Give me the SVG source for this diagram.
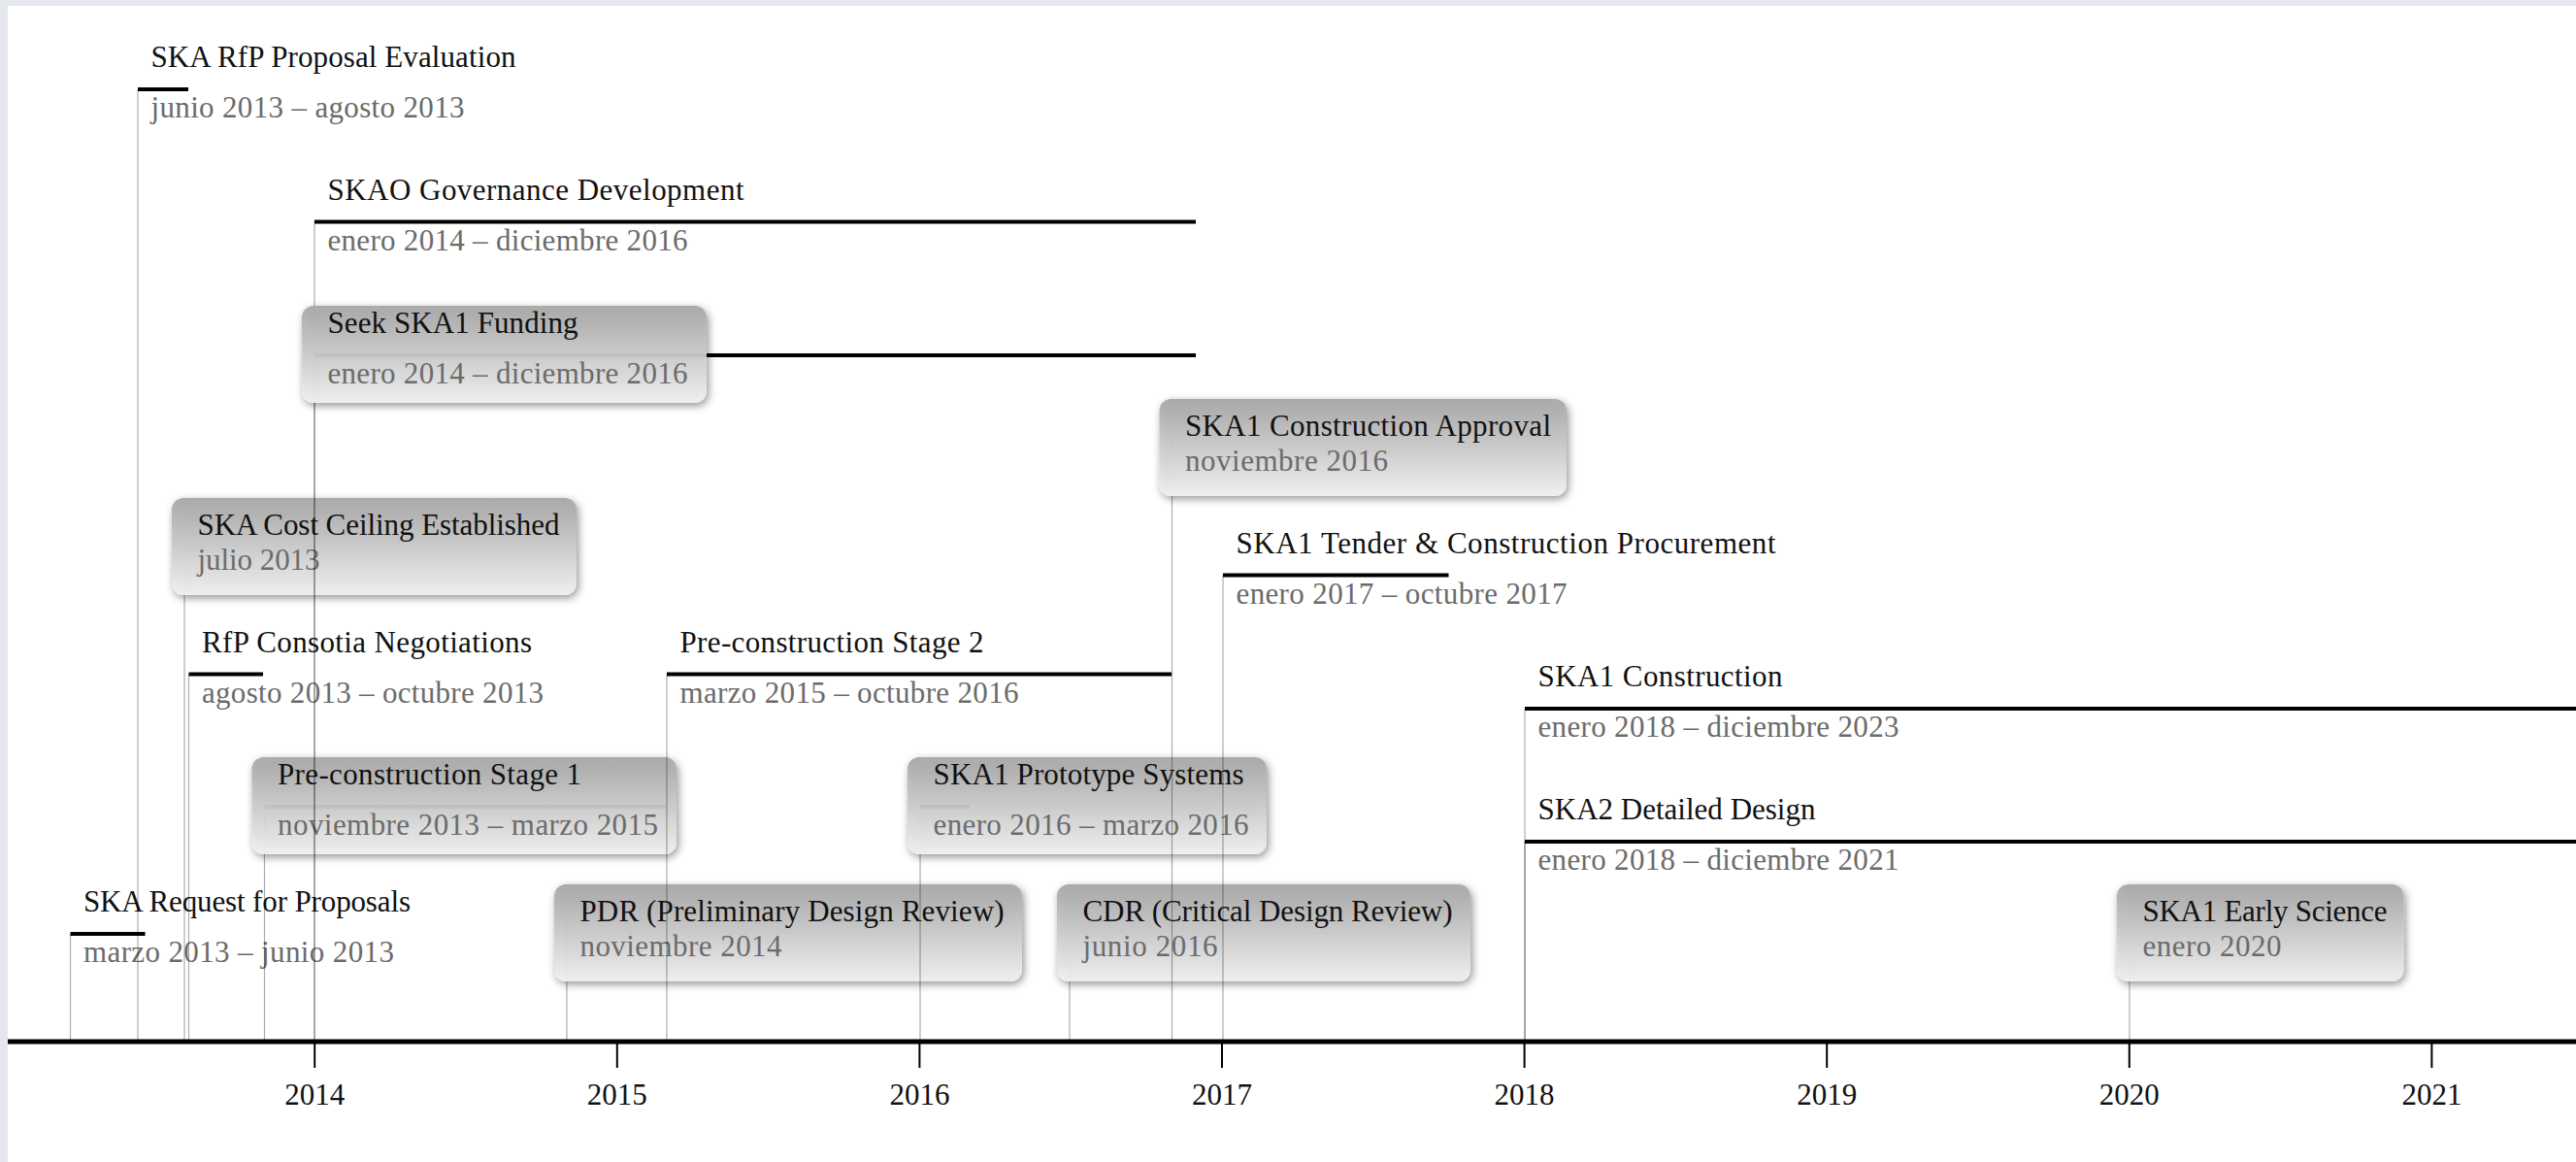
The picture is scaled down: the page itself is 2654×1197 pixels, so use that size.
<svg xmlns="http://www.w3.org/2000/svg" width="2654" height="1197" viewBox="0 0 2654 1197">
  <defs>
    <linearGradient id="boxFill" x1="0" y1="0" x2="0" y2="1">
      <stop offset="0" stop-color="#a6a6a6"/>
      <stop offset="0.5" stop-color="#cbcbcb"/>
      <stop offset="1" stop-color="#f1f1f1"/>
    </linearGradient>
    <filter id="boxShadow" x="-10%" y="-30%" width="125%" height="170%">
      <feDropShadow dx="2" dy="3" stdDeviation="4" flood-color="#000" flood-opacity="0.45"/>
    </filter>
    <style>
      text { font-family: "Liberation Serif", "Times New Roman", serif; font-size: 31px; }
      .title { fill: #111; }
      .date { fill: #6b6b6b; }
      .year { fill: #111; text-anchor: middle; }
      .bar { stroke: #000; stroke-width: 4; fill: none; }
      .lead { stroke: #000; stroke-opacity: 0.32; stroke-width: 1.2; fill: none; }
      .stub { stroke: #000; stroke-opacity: 0.32; stroke-width: 1.2; fill: none; }
      .box { fill: url(#boxFill); fill-opacity: 0.93; filter: url(#boxShadow); }
      .axis { stroke: #000; stroke-width: 5; }
      .tick { stroke: #000; stroke-width: 2; }
    </style>
  </defs>

  <!-- page -->
  <rect x="0" y="0" width="2654" height="1197" fill="#e4e7ec"/>
  <rect x="8" y="6" width="2646" height="1191" fill="#ffffff"/>

  <!-- timeline items -->
  <g id="nodes">
    <g id="rfp-requests">
      <line class="bar" x1="72.5" y1="962" x2="149.5" y2="962"/>
      <text class="title" x="86" y="939" textLength="337" lengthAdjust="spacing">SKA Request for Proposals</text>
      <text class="date" x="86" y="991" textLength="320" lengthAdjust="spacing">marzo 2013 – junio 2013</text>
    </g>
    <g id="rfp-evaluation">
      <line class="bar" x1="142" y1="92" x2="194" y2="92"/>
      <text class="title" x="155.5" y="69" textLength="376" lengthAdjust="spacing">SKA RfP Proposal Evaluation</text>
      <text class="date" x="155.5" y="121" textLength="323" lengthAdjust="spacing">junio 2013 – agosto 2013</text>
    </g>
    <g id="skao-governance">
      <line class="bar" x1="324" y1="228.5" x2="1232" y2="228.5"/>
      <text class="title" x="337.5" y="205.5" textLength="429" lengthAdjust="spacing">SKAO Governance Development</text>
      <text class="date" x="337.5" y="257.5" textLength="371" lengthAdjust="spacing">enero 2014 – diciembre 2016</text>
    </g>
    <g id="seek-funding">
      <line class="bar" x1="324" y1="366" x2="1232" y2="366"/>
      <line class="stub" x1="324" y1="315" x2="324" y2="415"/>
      <line class="stub" x1="324" y1="366" x2="324" y2="415"/>
      <rect class="box" x="311" y="315" width="417" height="100" rx="12"/>
      <text class="title" x="337.5" y="343" textLength="258" lengthAdjust="spacing">Seek SKA1 Funding</text>
      <text class="date" x="337.5" y="395" textLength="371" lengthAdjust="spacing">enero 2014 – diciembre 2016</text>
    </g>
    <g id="construction-approval">
      <line class="stub" x1="1207.5" y1="442" x2="1207.5" y2="511"/>
      <rect class="box" x="1194.5" y="411" width="419.5" height="100" rx="12"/>
      <text class="title" x="1221" y="449" textLength="377" lengthAdjust="spacing">SKA1 Construction Approval</text>
      <text class="date" x="1221" y="485" textLength="209" lengthAdjust="spacing">noviembre 2016</text>
    </g>
    <g id="tender">
      <line class="bar" x1="1260" y1="592.5" x2="1492.5" y2="592.5"/>
      <text class="title" x="1273.5" y="569.5" textLength="556" lengthAdjust="spacing">SKA1 Tender &amp; Construction Procurement</text>
      <text class="date" x="1273.5" y="621.5" textLength="341" lengthAdjust="spacing">enero 2017 – octubre 2017</text>
    </g>
    <g id="cost-ceiling">
      <line class="stub" x1="190" y1="544" x2="190" y2="613"/>
      <rect class="box" x="177" y="513" width="417" height="100" rx="12"/>
      <text class="title" x="203.5" y="551" textLength="373" lengthAdjust="spacing">SKA Cost Ceiling Established</text>
      <text class="date" x="203.5" y="587" textLength="126" lengthAdjust="spacing">julio 2013</text>
    </g>
    <g id="negotiations">
      <line class="bar" x1="194.5" y1="694.5" x2="271" y2="694.5"/>
      <text class="title" x="208" y="671.5" textLength="340" lengthAdjust="spacing">RfP Consotia Negotiations</text>
      <text class="date" x="208" y="723.5" textLength="352" lengthAdjust="spacing">agosto 2013 – octubre 2013</text>
    </g>
    <g id="preconstruction-2">
      <line class="bar" x1="687" y1="694.5" x2="1207" y2="694.5"/>
      <text class="title" x="700.5" y="671.5" textLength="313" lengthAdjust="spacing">Pre-construction Stage 2</text>
      <text class="date" x="700.5" y="723.5" textLength="349" lengthAdjust="spacing">marzo 2015 – octubre 2016</text>
    </g>
    <g id="ska1-construction">
      <line class="bar" x1="1571" y1="730" x2="2654" y2="730"/>
      <text class="title" x="1584.5" y="707" textLength="252" lengthAdjust="spacing">SKA1 Construction</text>
      <text class="date" x="1584.5" y="759" textLength="372" lengthAdjust="spacing">enero 2018 – diciembre 2023</text>
    </g>
    <g id="preconstruction-1">
      <line class="bar" x1="272.5" y1="831" x2="686" y2="831"/>
      <line class="stub" x1="272.5" y1="831" x2="272.5" y2="880"/>
      <rect class="box" x="259.5" y="780" width="437.5" height="100" rx="12"/>
      <text class="title" x="286" y="808" textLength="313" lengthAdjust="spacing">Pre-construction Stage 1</text>
      <text class="date" x="286" y="860" textLength="392" lengthAdjust="spacing">noviembre 2013 – marzo 2015</text>
    </g>
    <g id="prototypes">
      <line class="bar" x1="948" y1="831" x2="999" y2="831"/>
      <line class="stub" x1="948" y1="831" x2="948" y2="880"/>
      <rect class="box" x="935" y="780" width="370" height="100" rx="12"/>
      <text class="title" x="961.5" y="808" textLength="320" lengthAdjust="spacing">SKA1 Prototype Systems</text>
      <text class="date" x="961.5" y="860" textLength="325" lengthAdjust="spacing">enero 2016 – marzo 2016</text>
    </g>
    <g id="ska2-design">
      <line class="bar" x1="1571" y1="867" x2="2654" y2="867"/>
      <text class="title" x="1584.5" y="844" textLength="286" lengthAdjust="spacing">SKA2 Detailed Design</text>
      <text class="date" x="1584.5" y="896" textLength="372" lengthAdjust="spacing">enero 2018 – diciembre 2021</text>
    </g>
    <g id="pdr">
      <line class="stub" x1="584" y1="942" x2="584" y2="1011"/>
      <rect class="box" x="571" y="911" width="482" height="100" rx="12"/>
      <text class="title" x="597.5" y="949" textLength="437" lengthAdjust="spacing">PDR (Preliminary Design Review)</text>
      <text class="date" x="597.5" y="985" textLength="208" lengthAdjust="spacing">noviembre 2014</text>
    </g>
    <g id="cdr">
      <line class="stub" x1="1102" y1="942" x2="1102" y2="1011"/>
      <rect class="box" x="1089" y="911" width="426" height="100" rx="12"/>
      <text class="title" x="1115.5" y="949" textLength="381" lengthAdjust="spacing">CDR (Critical Design Review)</text>
      <text class="date" x="1115.5" y="985" textLength="139" lengthAdjust="spacing">junio 2016</text>
    </g>
    <g id="early-science">
      <line class="stub" x1="2194" y1="942" x2="2194" y2="1011"/>
      <rect class="box" x="2181" y="911" width="295.5" height="100" rx="12"/>
      <text class="title" x="2207.5" y="949" textLength="252" lengthAdjust="spacing">SKA1 Early Science</text>
      <text class="date" x="2207.5" y="985" textLength="143" lengthAdjust="spacing">enero 2020</text>
    </g>
  </g>

  <!-- leader lines from each item down to the time axis -->
  <g id="connectors">
    <line class="lead" x1="72.5" y1="962" x2="72.5" y2="1071"/>
    <line class="lead" x1="142" y1="92" x2="142" y2="1071"/>
    <line class="lead" x1="190" y1="613" x2="190" y2="1071"/>
    <line class="lead" x1="194.5" y1="694.5" x2="194.5" y2="1071"/>
    <line class="lead" x1="272.5" y1="880" x2="272.5" y2="1071"/>
    <line class="lead" x1="324" y1="228.5" x2="324" y2="315"/>
    <line class="lead" x1="324" y1="415" x2="324" y2="1071"/>
    <line class="lead" x1="324" y1="415" x2="324" y2="1071"/>
    <line class="lead" x1="584" y1="1011" x2="584" y2="1071"/>
    <line class="lead" x1="687" y1="694.5" x2="687" y2="1071"/>
    <line class="lead" x1="948" y1="880" x2="948" y2="1071"/>
    <line class="lead" x1="1102" y1="1011" x2="1102" y2="1071"/>
    <line class="lead" x1="1207.5" y1="511" x2="1207.5" y2="1071"/>
    <line class="lead" x1="1260" y1="592.5" x2="1260" y2="1071"/>
    <line class="lead" x1="1571" y1="730" x2="1571" y2="1071"/>
    <line class="lead" x1="1571" y1="867" x2="1571" y2="1071"/>
    <line class="lead" x1="2194" y1="1011" x2="2194" y2="1071"/>
  </g>

  <!-- time axis -->
  <g id="axis">
    <line class="axis" x1="8" y1="1073" x2="2654" y2="1073"/>
    <line class="tick" x1="324.2" y1="1073" x2="324.2" y2="1100"/>
    <line class="tick" x1="635.8" y1="1073" x2="635.8" y2="1100"/>
    <line class="tick" x1="947.4" y1="1073" x2="947.4" y2="1100"/>
    <line class="tick" x1="1259" y1="1073" x2="1259" y2="1100"/>
    <line class="tick" x1="1570.6" y1="1073" x2="1570.6" y2="1100"/>
    <line class="tick" x1="1882.2" y1="1073" x2="1882.2" y2="1100"/>
    <line class="tick" x1="2193.8" y1="1073" x2="2193.8" y2="1100"/>
    <line class="tick" x1="2505.4" y1="1073" x2="2505.4" y2="1100"/>
    <text class="year" x="324.2" y="1138">2014</text>
    <text class="year" x="635.8" y="1138">2015</text>
    <text class="year" x="947.4" y="1138">2016</text>
    <text class="year" x="1259" y="1138">2017</text>
    <text class="year" x="1570.6" y="1138">2018</text>
    <text class="year" x="1882.2" y="1138">2019</text>
    <text class="year" x="2193.8" y="1138">2020</text>
    <text class="year" x="2505.4" y="1138">2021</text>
  </g>
</svg>
